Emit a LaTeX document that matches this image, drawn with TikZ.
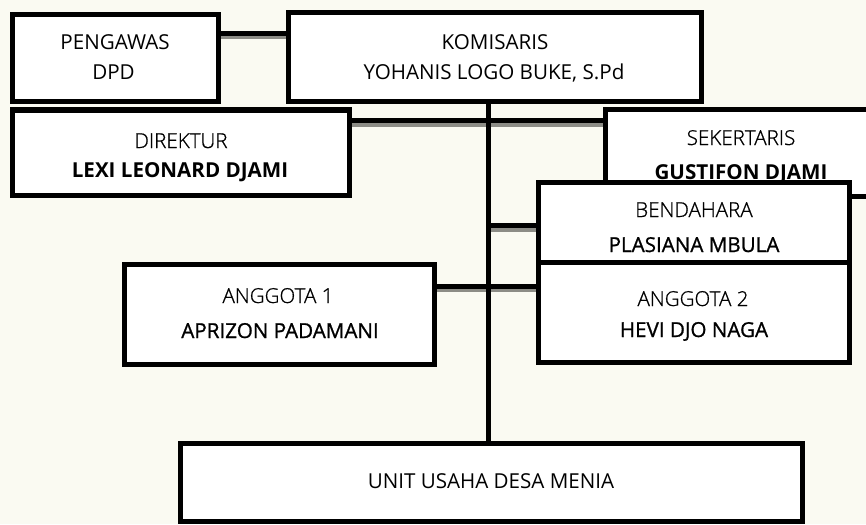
\documentclass[tikz,border=0pt]{standalone}
\usepackage{fontspec}
\setmainfont{Open Sans}
\IfFontExistsTF{Open Sans Light}{\newfontfamily\lightf{Open Sans Light}[FakeBold=0.8]}{\newfontfamily\lightf{Open Sans}[Color=3A3A3A]}
\IfFontExistsTF{Open Sans SemiBold}{\newfontfamily\semif{Open Sans SemiBold}}{\newfontfamily\semif{Open Sans}[FakeBold=1]}
\definecolor{bg}{RGB}{250,250,242}
\definecolor{shad}{RGB}{140,140,134}
\begin{document}
\begin{tikzpicture}[x=1pt,y=-1pt,
  box/.style={draw=black,fill=white,line width=5pt,inner sep=0pt,outer sep=0pt},
  conn/.style={draw=black,line width=5pt},
  shadow/.style={draw=shad,line width=5pt,transform canvas={yshift=-3.5pt}},
  lbl/.style={anchor=base,inner sep=0pt,font=\fontsize{20.6}{24}\selectfont},
  light/.style={lbl,font=\fontsize{20.6}{24}\selectfont\lightf},
  semi/.style={lbl,font=\fontsize{20.6}{24}\selectfont\semif},
  bold/.style={lbl,font=\fontsize{20.6}{24}\selectfont\bfseries}]
\fill[bg] (0,0) rectangle (866,524);
\useasboundingbox (0,0) rectangle (866,524);

\coordinate (tk) at (488.5,0);

% box geometry (placeholders for connectors)
\path (115,58.5) node[minimum width=206pt,minimum height=87pt,inner sep=0pt,outer sep=0pt] (peng) {};
\path (494.75,57) node[minimum width=412.5pt,minimum height=89pt,inner sep=0pt,outer sep=0pt] (kom) {};
\path (180.75,152.75) node[minimum width=337.5pt,minimum height=85.5pt,inner sep=0pt,outer sep=0pt] (dir) {};
\path (741,153) node[minimum width=271pt,minimum height=87pt,inner sep=0pt,outer sep=0pt] (sek) {};
\path (694,222.5) node[minimum width=311pt,minimum height=80pt,inner sep=0pt,outer sep=0pt] (bend) {};
\path (694,312.5) node[minimum width=311pt,minimum height=100pt,inner sep=0pt,outer sep=0pt] (ang2) {};
\path (279.5,314.5) node[minimum width=310pt,minimum height=100pt,inner sep=0pt,outer sep=0pt] (ang1) {};
\path (491,482.5) node[minimum width=622pt,minimum height=78pt,inner sep=0pt,outer sep=0pt] (unit) {};

% connector shadows
\draw[shadow] ([yshift=25pt]peng.east) -- ([yshift=25pt]peng.east -| kom.west);
\draw[shadow] ([yshift=32.25pt]dir.east) -- ([yshift=32.25pt]dir.east -| sek.west);
\draw[shadow] ([yshift=-3pt]bend.west -| tk) -- ([yshift=-3pt]bend.west);
\draw[shadow] ([yshift=28.5pt]ang1.east) -- ([yshift=28.5pt]ang1.east -| ang2.west);

% connectors
\draw[conn] ([yshift=25pt]peng.east) -- ([yshift=25pt]peng.east -| kom.west);
\draw[conn] ([yshift=32.25pt]dir.east) -- ([yshift=32.25pt]dir.east -| sek.west);
\draw[conn] (tk |- kom.south) -- (tk |- unit.north);
\draw[conn] ([yshift=-3pt]bend.west -| tk) -- ([yshift=-3pt]bend.west);
\draw[conn] ([yshift=28.5pt]ang1.east) -- ([yshift=28.5pt]ang1.east -| ang2.west);

% boxes
\node[box,minimum width=206pt,minimum height=87pt] (pengB) at (peng) {};
\node[box,minimum width=412.5pt,minimum height=89pt] (komB) at (kom) {};
\node[box,minimum width=337.5pt,minimum height=85.5pt] (dirB) at (dir) {};
\node[box,minimum width=271pt,minimum height=87pt] (sekB) at (sek) {};
\node[light] (t4a) at (741,145) {SEKERTARIS};
\node[bold] (t4b) at (741,179) {GUSTIFON DJAMI};
\node[box,minimum width=311pt,minimum height=80pt] (bendB) at (bend) {};
\node[box,minimum width=311pt,minimum height=100pt] (ang2B) at (ang2) {};
\node[box,minimum width=310pt,minimum height=100pt] (ang1B) at (ang1) {};
\node[box,minimum width=622pt,minimum height=78pt] (unitB) at (unit) {};

% texts
\node[lbl] (t1a) at (115,50) {PENGAWAS};
\node[lbl] (t1b) at (113.5,80) {DPD};
\node[lbl] (t2a) at (495,50) {KOMISARIS};
\node[lbl] (t2b) at (494,80) {YOHANIS LOGO BUKE, S.Pd};
\node[light] (t3a) at (181,148) {DIREKTUR};
\node[bold] (t3b) at (180,177) {LEXI LEONARD DJAMI};
\node[light] (t5a) at (694,217) {BENDAHARA};
\node[semi] (t5b) at (694,252) {PLASIANA MBULA};
\node[light] (t6a) at (693,306) {ANGGOTA 2};
\node[semi] (t6b) at (694,337) {HEVI DJO NAGA};
\node[light] (t7a) at (278,303) {ANGGOTA 1};
\node[semi] (t7b) at (280,338) {APRIZON PADAMANI};
\node[lbl] (t8) at (491,488) {UNIT USAHA DESA MENIA};
\end{tikzpicture}
\end{document}
